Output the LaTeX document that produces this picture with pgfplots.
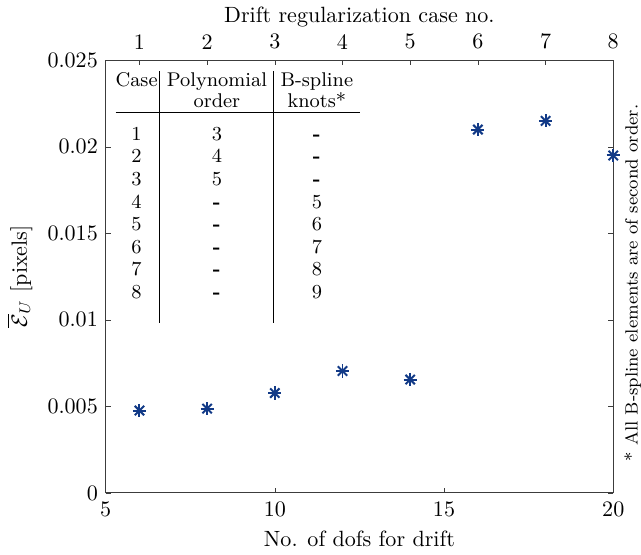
\documentclass[border=0pt]{standalone}
\usepackage{pgfplots}
\pgfplotsset{compat=1.18}
\definecolor{mkblue}{RGB}{18,58,135}
\definecolor{axgray}{RGB}{60,60,60}
\begin{document}
\begin{tikzpicture}
\begin{axis}[
  scale only axis, width=230pt, height=196pt,
  xmin=5, xmax=20, ymin=0, ymax=0.025,
  xtick={5,10,15,20}, ytick={0,0.005,0.01,0.015,0.02,0.025},
  xtick pos=bottom, ytick pos=both,
  tick align=inside, major tick length=2.3pt,
  scaled y ticks=false,
  yticklabel style={/pgf/number format/fixed, /pgf/number format/precision=3},
  xticklabel style={yshift=-0.5pt},
  axis line style={axgray}, tick style={axgray},
  xlabel={No. of dofs for drift},
  ylabel={$\overline{\mathcal{E}}_U$ [pixels]},
  clip=false,
]
\addplot[only marks, mark=+, mark size=3pt, color=mkblue, line width=0.9pt] coordinates {
(6,0.00476) (8,0.00487) (10,0.00577) (12,0.00705) (14,0.00655) (16,0.0210) (18,0.0215) (20,0.0195)
};
\addplot[only marks, mark=x, mark size=3pt, color=mkblue, line width=0.9pt] coordinates {
(6,0.00476) (8,0.00487) (10,0.00577) (12,0.00705) (14,0.00655) (16,0.0210) (18,0.0215) (20,0.0195)
};
\node[anchor=north west, inner sep=0pt, font=\small] at (axis cs:5.28,0.0244) {%
\renewcommand{\arraystretch}{0.93}%
\begin{tabular}{@{}c@{\hspace{1pt}}|@{\hspace{3pt}}c@{\hspace{3pt}}|@{\hspace{3pt}}c@{\hspace{3pt}}}
Case & Polynomial & B-spline\\[-1pt]
 & order & knots*\\[-1pt] \hline
\rule{0pt}{12.5pt}1 & 3 & \textbf{-}\\
2 & 4 & \textbf{-}\\
3 & 5 & \textbf{-}\\
4 & \textbf{-} & 5\\
5 & \textbf{-} & 6\\
6 & \textbf{-} & 7\\
7 & \textbf{-} & 8\\
8 & \textbf{-} & 9\\[8pt]
\end{tabular}};
\node[rotate=90, font=\fontsize{8.0}{10}\selectfont, inner sep=0pt] at (rel axis cs:1,0.485) [yshift=-8.8pt] {* All B-spline elements are of second order.};
\end{axis}
\begin{axis}[
  scale only axis, width=230pt, height=196pt,
  xmin=5, xmax=20, ymin=0, ymax=0.025,
  axis x line*=top, hide y axis,
  xtick={6,8,10,12,14,16,18,20}, xticklabels={1,2,3,4,5,6,7,8},
  xticklabel style={yshift=1.5pt},
  tick align=inside, major tick length=2.3pt,
  axis line style={axgray}, tick style={axgray},
  xlabel={Drift regularization case no.},
  xlabel style={yshift=-4pt},
]
\end{axis}
\end{tikzpicture}
\end{document}
